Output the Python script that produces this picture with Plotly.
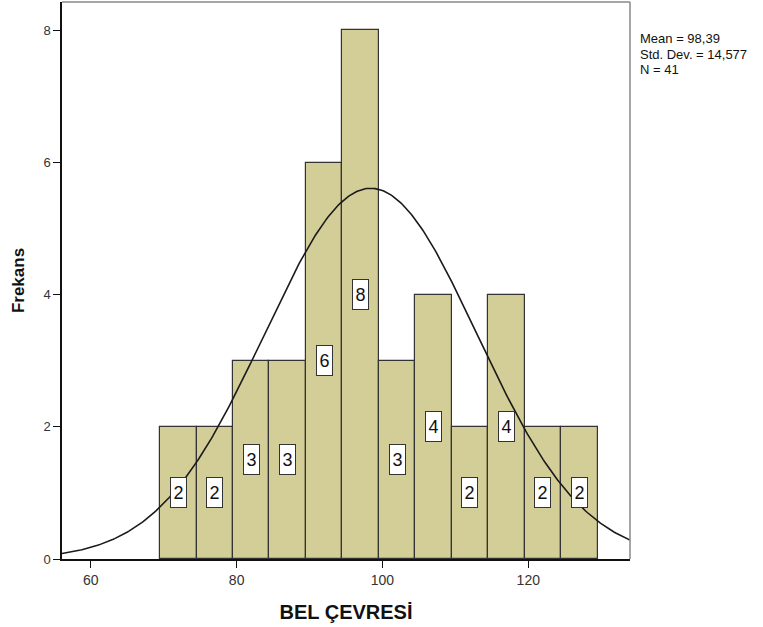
import numpy as np
import plotly.graph_objects as go

# Data
bin_edges = [69.5, 74.5, 79.5, 84.5, 89.5, 94.5, 99.5, 104.5, 109.5, 114.5, 119.5, 124.5, 129.5]
counts = [2, 2, 3, 3, 6, 8, 3, 4, 2, 4, 2, 2]
MEAN = 98.39
SD = 14.577
N = 41
x_ticks = [60, 80, 100, 120]
y_ticks = [0, 2, 4, 6, 8]
stats_lines = ["Mean = 98,39", "Std. Dev. = 14,577", "N = 41"]

edges = np.array(bin_edges)
centers = (edges[:-1] + edges[1:]) / 2
width = edges[1] - edges[0]

X_RANGE = [56.05, 133.95]
Y_RANGE = [0, 8.43]

fig = go.Figure()
fig.add_trace(go.Bar(
    x=centers, y=counts, width=width,
    marker=dict(color="#D3CE97", line=dict(color="#333333", width=1.2)),
    hoverinfo="skip", showlegend=False,
))

# fitted normal curve (SPSS overlay defined by mean, sd, N and bin width)
xc = np.linspace(X_RANGE[0], X_RANGE[1], 400)
yc = N * width / (SD * np.sqrt(2 * np.pi)) * np.exp(-0.5 * ((xc - MEAN) / SD) ** 2)
fig.add_trace(go.Scatter(x=xc, y=yc, mode="lines",
                         line=dict(color="#1a1a1a", width=1.6),
                         hoverinfo="skip", showlegend=False))

for cx, c in zip(centers, counts):
    fig.add_annotation(x=cx, y=c / 2, text=str(c), showarrow=False,
                       width=11, height=25,
                       font=dict(family="Liberation Sans, Arial", size=18, color="#111111"),
                       bgcolor="white", bordercolor="#333333", borderwidth=1, borderpad=2)

for i, line in enumerate(stats_lines):
    fig.add_annotation(xref="paper", yref="paper", x=1.0, y=0.9336 - i * 0.0272,
                       xanchor="left", yanchor="middle", xshift=8,
                       text=line, align="left", showarrow=False,
                       font=dict(family="Liberation Sans, Arial", size=13, color="#111111"))

# gray top and right frame
fig.add_shape(type="line", xref="paper", yref="paper", x0=0, x1=1, y0=1, y1=1,
              line=dict(color="#888888", width=1.5))
fig.add_shape(type="line", xref="paper", yref="paper", x0=1, x1=1, y0=0, y1=1,
              line=dict(color="#888888", width=1.5))

fig.update_layout(
    width=763, height=627,
    margin=dict(l=62, r=133, t=2, b=68),
    paper_bgcolor="white", plot_bgcolor="white",
    bargap=0,
    font=dict(family="Liberation Sans, Arial", color="#222222"),
    xaxis=dict(range=X_RANGE, tickvals=x_ticks, ticks="outside", ticklen=7, tickwidth=1.2,
               tickcolor="#111111", showline=True, linecolor="#111111", linewidth=1.5,
               showgrid=False, zeroline=False, tickfont=dict(size=14, color="#333333"),
               title=dict(text="<b>BEL ÇEVRESİ</b>", font=dict(size=20, color="#111111"), standoff=18)),
    yaxis=dict(range=Y_RANGE, tickvals=y_ticks, ticks="outside", ticklen=7, tickwidth=1.2,
               tickcolor="#111111", showline=True, linecolor="#111111", linewidth=1.5,
               showgrid=False, zeroline=False, tickfont=dict(size=13, color="#333333"),
               title=dict(text="<b>Frekans</b>", font=dict(size=17, color="#111111"), standoff=14)),
)

fig.write_html("out.html", config={"displayModeBar": False},
               post_script="document.body.style.margin='0';")
